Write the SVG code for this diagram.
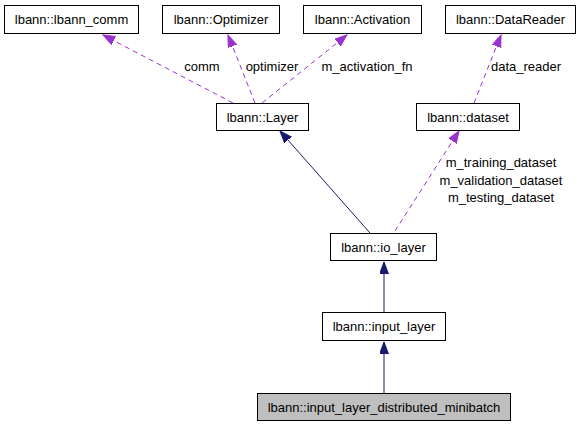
<svg xmlns="http://www.w3.org/2000/svg" width="581" height="427" viewBox="0 0 581 427">
<style>
text{font-family:"Liberation Sans",Arial,sans-serif;font-size:13px;fill:#000}
.n rect{fill:#fff;stroke:#000;stroke-width:1}
.n text{text-anchor:middle}
.d{fill:none;stroke:#9a32cd;stroke-width:1;stroke-dasharray:5,4}
.s{fill:none;stroke:#191970;stroke-width:1}
.l{text-anchor:middle}
</style>
<defs>
<marker id="ap" markerUnits="userSpaceOnUse" markerWidth="13" markerHeight="10" refX="12" refY="4.5" orient="auto" viewBox="0 0 13 10"><path d="M0,0 L12,4.5 L0,9 z" fill="#9a32cd" stroke="#9a32cd"/></marker>
<marker id="an" markerUnits="userSpaceOnUse" markerWidth="13" markerHeight="10" refX="12" refY="4.5" orient="auto" viewBox="0 0 13 10"><path d="M0,0 L12,4.5 L0,9 z" fill="#191970" stroke="#191970"/></marker>
</defs>
<rect width="581" height="427" fill="#fff"/>
<g id="connectors">
<path class="d" d="M233,103 L103,35" marker-end="url(#ap)"/>
<path class="d" d="M255,103 L228,35" marker-end="url(#ap)"/>
<path class="d" d="M262,103 L347,35" marker-end="url(#ap)"/>
<path class="d" d="M474,103 L501,35" marker-end="url(#ap)"/>
<path class="s" d="M370,233 L280,131" marker-end="url(#an)"/>
<path class="d" d="M395,231 L459,131" marker-end="url(#ap)"/>
<path class="s" d="M384,312 L384,262" marker-end="url(#an)"/>
<path class="s" d="M384,393 L384,342" marker-end="url(#an)"/>
<text class="l" x="202" y="71">comm</text>
<text class="l" x="272" y="71">optimizer</text>
<text class="l" x="367" y="71">m_activation_fn</text>
<text class="l" x="526" y="71">data_reader</text>
<text class="l" x="501" y="167">m_training_dataset</text>
<text class="l" x="501" y="185">m_validation_dataset</text>
<text class="l" x="501" y="202">m_testing_dataset</text>
</g>
<g id="lbann_comm" class="n"><rect x="4.5" y="5.5" width="134" height="28"/><text x="71.5" y="24">lbann::lbann_comm</text></g>
<g id="optimizer" class="n"><rect x="162.5" y="5.5" width="117" height="28"/><text x="221" y="24">lbann::Optimizer</text></g>
<g id="activation" class="n"><rect x="303.5" y="5.5" width="118" height="28"/><text x="362.5" y="24">lbann::Activation</text></g>
<g id="datareader" class="n"><rect x="445.5" y="5.5" width="130" height="28"/><text x="510.5" y="24">lbann::DataReader</text></g>
<g id="layer" class="n"><rect x="216.5" y="103.5" width="92" height="27"/><text x="262.5" y="121.5">lbann::Layer</text></g>
<g id="dataset" class="n"><rect x="416.5" y="103.5" width="103" height="27"/><text x="468" y="121.5">lbann::dataset</text></g>
<g id="io_layer" class="n"><rect x="330.5" y="233.5" width="106" height="27"/><text x="383.5" y="251.5">lbann::io_layer</text></g>
<g id="input_layer" class="n"><rect x="322.5" y="312.5" width="123" height="28"/><text x="384" y="331">lbann::input_layer</text></g>
<g id="input_layer_distributed_minibatch" class="n"><rect x="257.5" y="393.5" width="253" height="27" style="fill:#bfbfbf"/><text x="384" y="411.5">lbann::input_layer_distributed_minibatch</text></g>
</svg>
